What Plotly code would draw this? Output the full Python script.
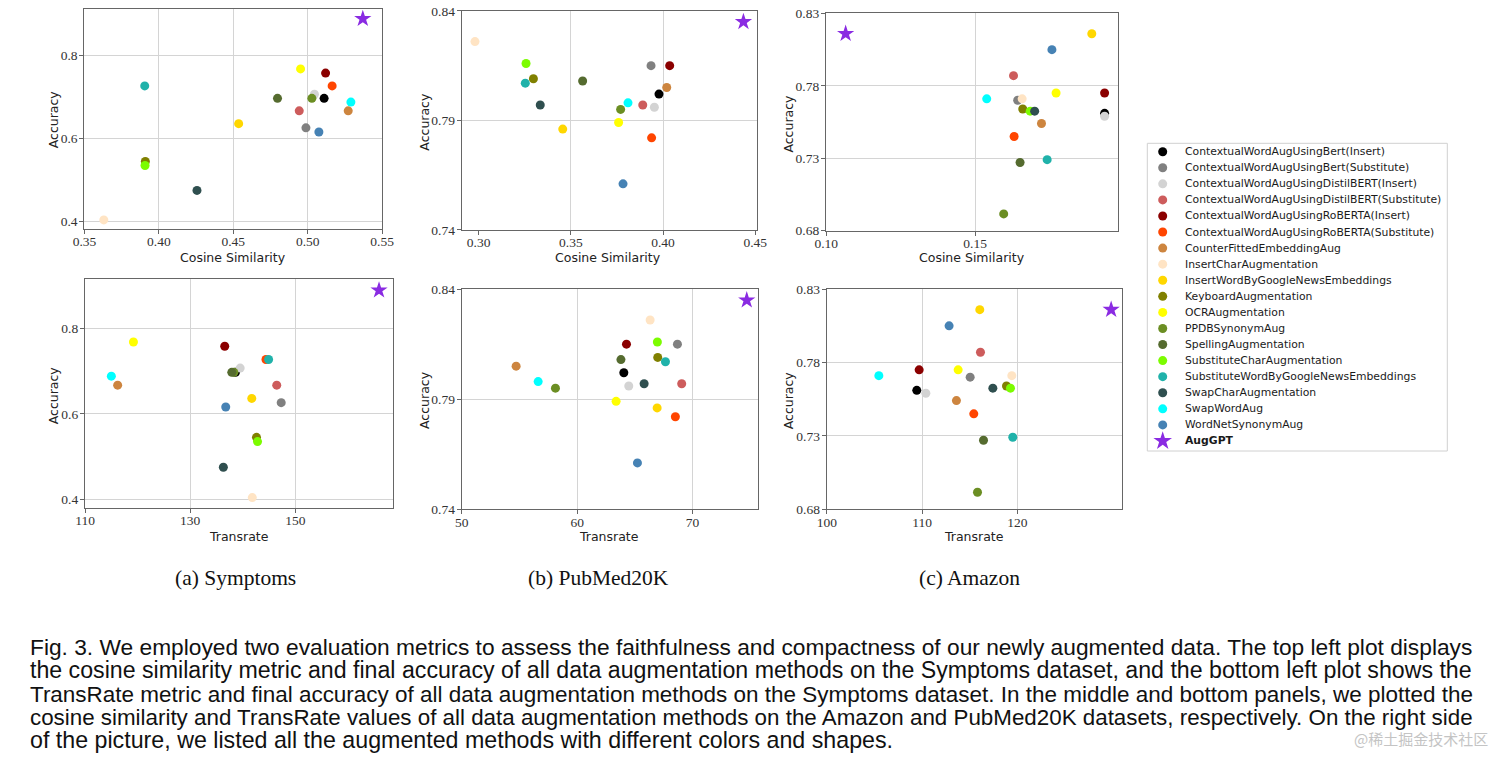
import plotly.graph_objects as go

W, H = 1512, 765          # browser window = figure size (page margin removed below)

# ---------------- data ----------------
methods = [
    "ContextualWordAugUsingBert(Insert)",
    "ContextualWordAugUsingBert(Substitute)",
    "ContextualWordAugUsingDistilBERT(Insert)",
    "ContextualWordAugUsingDistilBERT(Substitute)",
    "ContextualWordAugUsingRoBERTA(Insert)",
    "ContextualWordAugUsingRoBERTA(Substitute)",
    "CounterFittedEmbeddingAug",
    "InsertCharAugmentation",
    "InsertWordByGoogleNewsEmbeddings",
    "KeyboardAugmentation",
    "OCRAugmentation",
    "PPDBSynonymAug",
    "SpellingAugmentation",
    "SubstituteCharAugmentation",
    "SubstituteWordByGoogleNewsEmbeddings",
    "SwapCharAugmentation",
    "SwapWordAug",
    "WordNetSynonymAug",
]
colors = [
    "#000000", "#808080", "#d3d3d3", "#cd5c5c", "#8b0000", "#ff4500",
    "#cd853f", "#ffe4c4", "#ffd700", "#808000", "#ffff00", "#6b8e23",
    "#556b2f", "#7cfc00", "#20b2aa", "#2f4f4f", "#00ffff", "#4682b4",
]
augpt_name = "AugGPT"
augpt_color = "#8a2be2"

# Symptoms
sym_acc = [0.697, 0.626, 0.707, 0.667, 0.758, 0.727, 0.667, 0.404, 0.636,
           0.545, 0.768, 0.697, 0.697, 0.535, 0.727, 0.475, 0.688, 0.616]
sym_cos = [0.511, 0.4988, 0.5045, 0.4943, 0.512, 0.5164, 0.5272, 0.363, 0.4536,
           0.3909, 0.4952, 0.5028, 0.4797, 0.3907, 0.3905, 0.4256, 0.529, 0.5075]
sym_tr = [138.6, 147.3, 139.5, 146.45, 136.56, 144.4, 116.2, 141.8, 141.7,
          142.6, 119.2, 138.3, 137.9, 142.8, 144.9, 136.3, 115.0, 136.75]

# PubMed20K
pub_acc = [0.802, 0.815, 0.796, 0.797, 0.815, 0.782, 0.805, 0.826, 0.786,
           0.809, 0.789, 0.795, 0.808, 0.816, 0.807, 0.797, 0.798, 0.761]
pub_cos = [0.3978, 0.3935, 0.3953, 0.389, 0.4036, 0.3938, 0.402, 0.298, 0.3456,
           0.3297, 0.3759, 0.377, 0.3564, 0.3257, 0.3253, 0.3334, 0.381, 0.3783]
pub_tr = [64.05, 68.7, 64.48, 69.07, 64.28, 68.52, 54.71, 66.33, 66.94,
          66.99, 63.38, 58.12, 63.8, 66.96, 67.66, 65.81, 56.62, 65.23]

# Amazon
ama_acc = [0.761, 0.770, 0.759, 0.787, 0.775, 0.745, 0.754, 0.771, 0.816,
           0.764, 0.775, 0.6915, 0.727, 0.7625, 0.729, 0.7625, 0.771, 0.805]
ama_cos = [0.1935, 0.1643, 0.1935, 0.1629, 0.1935, 0.1631, 0.1723, 0.1658, 0.1892,
           0.166, 0.1772, 0.1596, 0.1651, 0.1685, 0.1742, 0.170, 0.1539, 0.1758]
ama_tr = [109.44, 115.04, 110.39, 116.12, 109.69, 115.42, 113.6, 119.41, 116.05,
          118.85, 113.78, 115.81, 116.44, 119.27, 119.51, 117.42, 105.46, 112.83]

# AugGPT  (Symptoms, PubMed20K, Amazon)
augpt_acc = [0.889, 0.835, 0.816]
augpt_cos = [0.537, 0.4436, 0.1065]
augpt_tr = [165.9, 74.71, 129.83]

# tick labels
sym_cos_ticks = [0.35, 0.40, 0.45, 0.50, 0.55]
sym_tr_ticks = [110, 130, 150]
sym_acc_ticks = [0.4, 0.6, 0.8]
pub_cos_ticks = [0.30, 0.35, 0.40, 0.45]
pub_tr_ticks = [50, 60, 70]
pub_acc_ticks = [0.74, 0.79, 0.84]
ama_cos_ticks = [0.10, 0.15]
ama_tr_ticks = [100, 110, 120]
ama_acc_ticks = [0.68, 0.73, 0.78, 0.83]

subplot_titles = ["(a) Symptoms", "(b) PubMed20K", "(c) Amazon"]
caption_lines = [
    "Fig. 3. We employed two evaluation metrics to assess the faithfulness and compactness of our newly augmented data. The top left plot displays",
    "the cosine similarity metric and final accuracy of all data augmentation methods on the Symptoms dataset, and the bottom left plot shows the",
    "TransRate metric and final accuracy of all data augmentation methods on the Symptoms dataset. In the middle and bottom panels, we plotted the",
    "cosine similarity and TransRate values of all data augmentation methods on the Amazon and PubMed20K datasets, respectively. On the right side",
    "of the picture, we listed all the augmented methods with different colors and shapes.",
]
watermark = "@稀土掘金技术社区"

# ---------------- layout helpers (window pixels -> paper fractions) ----------------
def px_x(p):
    return p / W

def px_y(p):
    return 1 - p / H

E = 1e-4
panels = [
    dict(x=sym_cos, y=sym_acc, k=0, xl="Cosine Similarity", box=(84.3, 382.3, 9, 229),
         xr=[0.35 - E, 0.55 + E], yr=[0.382, 0.9125], xt=sym_cos_ticks, xf=".2f",
         yt=sym_acc_ticks, yf=".1f", xg=[0.40, 0.45, 0.50], yg=[0.4, 0.6, 0.8],
         xtp=(233.3, 257.5), ytp=(53.3, 119)),
    dict(x=sym_tr, y=sym_acc, k=0, xl="Transrate", box=(85, 392.7, 279.3, 508),
         xr=[110 - 0.01, 168.5], yr=[0.3797, 0.9146], xt=sym_tr_ticks, xf="d",
         yt=sym_acc_ticks, yf=".1f", xg=[130, 150], yg=[0.4, 0.6, 0.8],
         xtp=(239.3, 536), ytp=(53.3, 395)),
    dict(x=pub_cos, y=pub_acc, k=1, xl="Cosine Similarity", box=(461.7, 756.7, 10.7, 230),
         xr=[0.2908, 0.4508], yr=[0.74 - E, 0.84 + E], xt=pub_cos_ticks, xf=".2f",
         yt=pub_acc_ticks, yf=".2f", xg=[0.35, 0.40], yg=[0.79],
         xtp=(608.3, 257.5), ytp=(425, 121.7)),
    dict(x=pub_tr, y=pub_acc, k=1, xl="Transrate", box=(461.7, 757.7, 289, 509.3),
         xr=[50 - 0.01, 75.66], yr=[0.74 - E, 0.84 + E], xt=pub_tr_ticks, xf="d",
         yt=pub_acc_ticks, yf=".2f", xg=[60, 70], yg=[0.79],
         xtp=(609.3, 536.5), ytp=(424, 400)),
    dict(x=ama_cos, y=ama_acc, k=2, xl="Cosine Similarity", box=(826, 1117.7, 13.3, 230.7),
         xr=[0.10 - E, 0.1979], yr=[0.68 - E, 0.83 + E], xt=ama_cos_ticks, xf=".2f",
         yt=ama_acc_ticks, yf=".2f", xg=[0.15], yg=[0.73, 0.78],
         xtp=(971.7, 257.5), ytp=(788.3, 123.3)),
    dict(x=ama_tr, y=ama_acc, k=2, xl="Transrate", box=(826.7, 1122.3, 289, 509.3),
         xr=[100 - 0.01, 131.0], yr=[0.68 - E, 0.83 + E], xt=ama_tr_ticks, xf="d",
         yt=ama_acc_ticks, yf=".2f", xg=[110, 120], yg=[0.73, 0.78],
         xtp=(974.3, 536.5), ytp=(788.3, 400)),
]

aug_x_by_panel = [augpt_cos, augpt_tr] * 3

SPINE = "#666666"
GRID = "#d4d4d4"
TICKFONT = dict(family="Liberation Serif", size=13.5, color="#333333")
TITLEFONT = dict(family="DejaVu Sans", size=12.5, color="#222222")

fig = go.Figure()
annotations = []

for i, p in enumerate(panels):
    n = i + 1
    xa = "x" if n == 1 else f"x{n}"
    ya = "y" if n == 1 else f"y{n}"
    l, r, t, b = p["box"]
    common = dict(showline=True, mirror=True, linecolor=SPINE, linewidth=1.2,
                  ticks="outside", ticklen=4, tickwidth=1, tickcolor=SPINE,
                  tickfont=TICKFONT, zeroline=False, showgrid=False, fixedrange=True,
                  automargin=False, ticklabeloverflow="allow")
    fig.layout[f"xaxis{n}" if n > 1 else "xaxis"] = dict(
        domain=[px_x(l), px_x(r)], range=p["xr"], anchor=ya,
        tickmode="array", tickvals=p["xt"], tickformat=p["xf"], ticklabelstandoff=-4,
        minor=dict(tickmode="array", tickvals=p["xg"], showgrid=True,
                   gridcolor=GRID, gridwidth=1, ticks=""),
        **common)
    fig.layout[f"yaxis{n}" if n > 1 else "yaxis"] = dict(
        domain=[px_y(b), px_y(t)], range=p["yr"], anchor=xa,
        tickmode="array", tickvals=p["yt"], tickformat=p["yf"], ticklabelstandoff=-1,
        minor=dict(tickmode="array", tickvals=p["yg"], showgrid=True,
                   gridcolor=GRID, gridwidth=1, ticks=""),
        **common)

    fig.add_trace(go.Scatter(
        x=p["x"], y=p["y"], mode="markers", xaxis=xa, yaxis=ya,
        marker=dict(color=colors, size=9, line=dict(width=0)),
        text=methods, hovertemplate="%{text}<br>%{x}, %{y}<extra></extra>",
        showlegend=False))
    k = p["k"]
    fig.add_trace(go.Scatter(
        x=[aug_x_by_panel[i][k]], y=[augpt_acc[k]], mode="markers", xaxis=xa, yaxis=ya,
        marker=dict(color=augpt_color, size=13, symbol="star", line=dict(width=0)),
        name=augpt_name, showlegend=False))

    annotations.append(dict(text=p["xl"], x=px_x(p["xtp"][0]), y=px_y(p["xtp"][1]),
                            xref="paper", yref="paper", showarrow=False,
                            xanchor="center", yanchor="middle", font=TITLEFONT))
    annotations.append(dict(text="Accuracy", x=px_x(p["ytp"][0]), y=px_y(p["ytp"][1]),
                            xref="paper", yref="paper", showarrow=False, textangle=-90,
                            xanchor="center", yanchor="middle", font=TITLEFONT))

# ---------------- legend (manual, to match row spacing) ----------------
LG_L, LG_R, LG_T, LG_B = 1147.3, 1447.3, 143.3, 451.0
ROW0, ROWH = 151.7, 16.07
fig.layout["xaxis7"] = dict(domain=[px_x(LG_L), px_x(LG_R)], range=[LG_L, LG_R],
                            visible=False, fixedrange=True, anchor="y7", automargin=False)
fig.layout["yaxis7"] = dict(domain=[px_y(LG_B), px_y(LG_T)],
                            range=[(LG_B - ROW0) / ROWH, (LG_T - ROW0) / ROWH],
                            visible=False, fixedrange=True, anchor="x7", automargin=False)
fig.add_shape(type="rect", xref="paper", yref="paper",
              x0=px_x(LG_L), x1=px_x(LG_R), y0=px_y(LG_B), y1=px_y(LG_T),
              line=dict(color="#d0d0d0", width=1), fillcolor="white", layer="below")
rows = list(range(len(methods)))
fig.add_trace(go.Scatter(x=[1162.7] * len(methods), y=rows, mode="markers",
                         xaxis="x7", yaxis="y7",
                         marker=dict(color=colors, size=9, line=dict(width=0)),
                         hoverinfo="skip", showlegend=False))
fig.add_trace(go.Scatter(x=[1162.7], y=[len(methods)], mode="markers",
                         xaxis="x7", yaxis="y7",
                         marker=dict(color=augpt_color, size=14, symbol="star", line=dict(width=0)),
                         hoverinfo="skip", showlegend=False))
LEGFONT = dict(family="DejaVu Sans", size=10.8, color="#1a1a1a")
for r_, name in enumerate(methods + [augpt_name]):
    annotations.append(dict(text=f"<b>{name}</b>" if name == augpt_name else name,
                            x=1182.7, y=r_, xref="x7", yref="y7", showarrow=False,
                            xanchor="left", yanchor="middle", font=LEGFONT))

# ---------------- captions ----------------
sub_x = [235.5, 598, 969]
for s, cx in zip(subplot_titles, sub_x):
    annotations.append(dict(text=s, x=px_x(cx), y=px_y(578), xref="paper", yref="paper",
                            showarrow=False, xanchor="center", yanchor="middle",
                            font=dict(family="Liberation Serif", size=21.5, color="#111111")))

cap_y = [647, 670, 694, 717, 740]
cap_size = [22.74, 23.17, 22.47, 22.37, 23.22]
for line, cy, fs in zip(caption_lines, cap_y, cap_size):
    annotations.append(dict(text=line, x=px_x(28), y=px_y(cy), xref="paper", yref="paper",
                            showarrow=False, xanchor="left", yanchor="middle",
                            font=dict(family="Liberation Sans", size=fs, color="#111111")))

annotations.append(dict(text=watermark, x=px_x(1490), y=px_y(738), xref="paper", yref="paper",
                        showarrow=False, xanchor="right", yanchor="middle",
                        font=dict(family="Noto Sans CJK SC", size=15, color="#c4c4c4")))

fig.update_layout(template="none", width=W, height=H, autosize=False,
                  margin=dict(l=0, r=0, t=0, b=0, pad=0, autoexpand=False),
                  paper_bgcolor="white", plot_bgcolor="white",
                  annotations=annotations, showlegend=False)

fig.write_html("out.html", config={"displayModeBar": False},
               post_script="document.body.style.margin='0';document.body.style.overflow='hidden';")
